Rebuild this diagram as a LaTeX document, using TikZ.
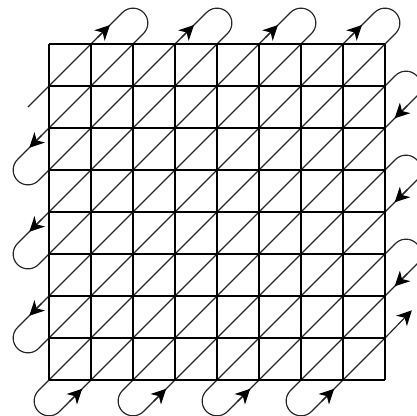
\documentclass[tikz,border=0pt]{standalone}
\usepackage{xcolor}
\usepackage{tikz}
\usetikzlibrary{arrows.meta}
\definecolor{noir}{HTML}{000000}
\definecolor{trait}{HTML}{262626}

\begin{document}
\begin{tikzpicture}[
    grille/.style={noir, line width=1.4pt},
    chemin/.style={trait, line width=0.8pt},
    fleche/.style={trait, line width=0.8pt, -{Stealth[noir, length=10pt, width=10pt, inset=3pt]}}
  ]
    \useasboundingbox (-1.167,-0.857) rectangle (8.762,9.048);
    \def\r{0.3536}
    % Diagonales
    \draw[chemin] (-0.5,6.5) -- (0,7);
    \foreach \k in {1,...,7} {
      \draw[chemin] (0,8-\k) -- (\k,8);
      \draw[chemin] (\k,0) -- (8,8-\k);
    }
    \draw[chemin] (0,0) -- (8,8);
    % Boucles en haut et a gauche
    \foreach \i in {1,3,5,7} {
      \draw[chemin] (\i,8) -- ++(0.75,0.75) arc[start angle=135, end angle=-45, radius=\r] -- (\i+1,8);
      \draw[fleche] (\i+0.15,8.15) -- (\i+0.45,8.45);
    }
    \foreach \j in {6,4,2} {
      \draw[chemin] (0,\j) -- ++(-0.75,-0.75) arc[start angle=135, end angle=315, radius=\r] -- (0,\j-1);
      \draw[fleche] (-0.17,\j-0.17) -- (-0.47,\j-0.47);
    }
    % Boucles en bas et a droite
    \foreach \i in {0,2,4,6} {
      \draw[chemin] (\i,0) -- ++(-0.25,-0.25) arc[start angle=135, end angle=315, radius=\r] -- (\i+1,0);
      \draw[fleche] (\i+0.49,-0.51) -- (\i+0.79,-0.21);
    }
    \foreach \j in {7,5,3} {
      \draw[chemin] (8,\j) -- ++(0.25,0.25) arc[start angle=135, end angle=-45, radius=\r] -- (8,\j-1);
      \draw[fleche] (8.53,\j-0.47) -- (8.23,\j-0.77);
    }
    % Fin
    \draw[fleche] (8,1) -- (8.64,1.66);
    % Grille
    \draw[grille] (0,0) grid (8,8);
  \end{tikzpicture}
\end{document}
